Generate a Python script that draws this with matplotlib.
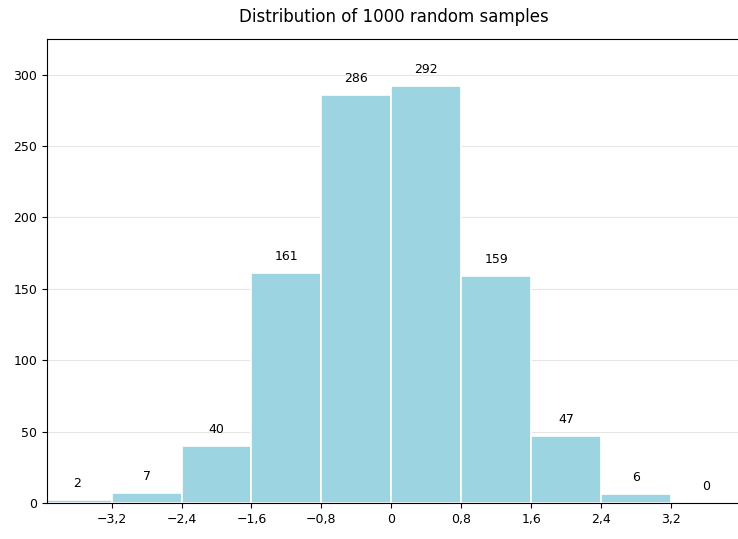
import matplotlib
matplotlib.use("Agg")
import matplotlib.pyplot as plt

edges = [-4.0, -3.2, -2.4, -1.6, -0.8, 0.0, 0.8, 1.6, 2.4, 3.2, 4.0]
counts = [2, 7, 40, 161, 286, 292, 159, 47, 6, 0]
xticks = [-3.2, -2.4, -1.6, -0.8, 0, 0.8, 1.6, 2.4, 3.2]
xticklabels = ["\u22123,2", "\u22122,4", "\u22121,6", "\u22120,8", "0", "0,8", "1,6", "2,4", "3,2"]
yticks = [0, 50, 100, 150, 200, 250, 300]

fig = plt.figure(figsize=(7.38, 5.39), dpi=100)
ax = fig.add_axes([47/738, 1-503/539, (740-47)/738, (503-39)/539])
ax.set_axisbelow(True)
ax.yaxis.grid(True, color="#e6e6e6", linewidth=0.8)
lefts = edges[:-1]
widths = [edges[i+1]-edges[i] for i in range(len(counts))]
ax.bar(lefts, counts, width=widths, align="edge", color="#9dd4e1", edgecolor="white", linewidth=1.2)
for l, w, c in zip(lefts, widths, counts):
    ax.text(l + w/2, c + 7, str(c), ha="center", va="bottom", fontsize=9)
ax.set_xlim(-3.94, 3.99)
ax.set_ylim(0, 325)
ax.set_xticks(xticks)
ax.set_xticklabels(xticklabels, fontsize=9)
ax.set_yticks(yticks)
ax.tick_params(labelsize=9)
ax.set_title("Distribution of 1000 random samples", fontsize=12, pad=12)
fig.savefig("out.png", dpi=100)
